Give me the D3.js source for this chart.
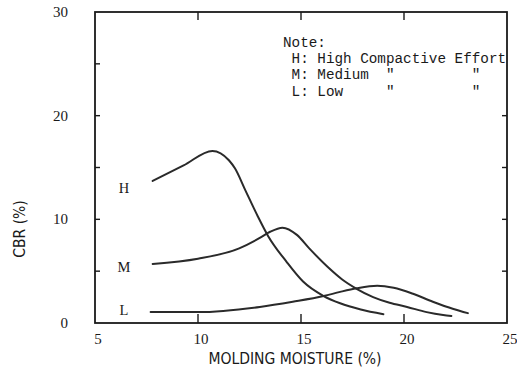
<!DOCTYPE html>
<html>
<head>
<meta charset="utf-8">
<script src="https://cdn.jsdelivr.net/npm/d3@7"></script>
<style>
  html, body { margin: 0; padding: 0; background: #fff; }
  svg { display: block; }
</style>
</head>
<body>
<svg id="chart" width="517" height="373"></svg>
<script>
// CBR versus molding moisture for three compactive efforts
const moistureTicks = [5, 10, 15, 20, 25];
const cbrTicks = [0, 10, 20, 30];
const cbrMinorTicks = [5, 10, 15, 20, 25];

const highMoisture = [7.8, 9.3, 10.7, 11.5, 11.8, 12.3, 12.9, 13.4, 14.3, 15.1, 16.1, 16.9, 17.9, 19.0];
const highCBR      = [13.7, 15.2, 16.6, 15.7, 14.9, 12.8, 10.3, 8.4, 5.9, 4.0, 2.6, 1.9, 1.3, 0.85];

const mediumMoisture = [7.8, 10.0, 12.0, 13.0, 13.5, 14.1, 14.8, 15.4, 16.3, 17.0, 17.7, 18.5, 19.3, 20.15, 21.1, 21.9, 22.3];
const mediumCBR      = [5.7, 6.2, 7.2, 8.2, 8.8, 9.2, 8.5, 7.2, 5.4, 4.2, 3.3, 2.5, 1.95, 1.55, 1.05, 0.77, 0.68];

const lowMoisture = [7.7, 10.0, 13.0, 14.6, 16.1, 16.9, 17.7, 18.7, 19.5, 20.4, 21.4, 22.4, 23.1];
const lowCBR      = [1.05, 1.05, 1.55, 2.05, 2.6, 3.0, 3.35, 3.6, 3.4, 2.85, 2.05, 1.35, 0.95];

const curveLabels = ["H", "M", "L"];
const noteLines = [
  "Note:",
  " H: High Compactive Effort",
  " M: Medium  \"         \"",
  " L: Low     \"         \""
];

const svg = d3.select("#chart");
const x = d3.scaleLinear().domain([5, 25]).range([95, 507]);
const y = d3.scaleLinear().domain([0, 30]).range([323, 12]);

const ink = "#1a1a1a";

// Note block (drawn first so the frame sits on top of it)
const note = svg.append("g")
  .attr("font-family", "'Liberation Mono', 'DejaVu Sans Mono', monospace")
  .attr("font-size", 14.3)
  .attr("fill", ink);
noteLines.forEach((t, i) => {
  note.append("text")
    .attr("x", 283)
    .attr("y", 47 + i * 16.2)
    .attr("xml:space", "preserve")
    .style("white-space", "pre")
    .text(t);
});

// Frame
const frame = svg.append("g").attr("stroke", ink).attr("fill", "none");
frame.append("rect")
  .attr("x", x(5)).attr("y", y(30))
  .attr("width", x(25) - x(5)).attr("height", y(0) - y(30))
  .attr("stroke-width", 1.8);

// Inward ticks on all four sides
const inner = [10, 15, 20];
frame.selectAll(".tb").data(inner).join("line")
  .attr("x1", d => x(d)).attr("x2", d => x(d))
  .attr("y1", y(0)).attr("y2", y(0) - 9).attr("stroke-width", 1.4);
frame.selectAll(".tt").data(inner).join("line")
  .attr("x1", d => x(d)).attr("x2", d => x(d))
  .attr("y1", y(30)).attr("y2", y(30) + 8).attr("stroke-width", 1.4);
frame.selectAll(".tl").data(cbrMinorTicks).join("line")
  .attr("x1", x(5)).attr("x2", x(5) + 5)
  .attr("y1", d => y(d)).attr("y2", d => y(d)).attr("stroke-width", 1.4);
frame.selectAll(".tr").data([5, 10, 15, 20]).join("line")
  .attr("x1", x(25)).attr("x2", x(25) - 5)
  .attr("y1", d => y(d)).attr("y2", d => y(d)).attr("stroke-width", 1.4);

// Tick labels
const labels = svg.append("g")
  .attr("font-family", "'Liberation Serif', 'DejaVu Serif', serif")
  .attr("font-size", 15)
  .attr("fill", ink);
labels.selectAll(".yl").data(cbrTicks).join("text")
  .attr("x", 68).attr("y", d => y(d) + 5)
  .attr("text-anchor", "end")
  .text(d => d);
labels.selectAll(".xl").data(moistureTicks).join("text")
  .attr("x", d => x(d) + 3).attr("y", 344)
  .attr("text-anchor", "middle")
  .text(d => d);

// Axis titles
svg.append("text")
  .attr("transform", "translate(25,229) rotate(-90)")
  .attr("text-anchor", "middle")
  .attr("font-family", "'DejaVu Sans Condensed', 'DejaVu Sans', sans-serif")
  .attr("font-size", 15.5)
  .attr("fill", ink)
  .text("CBR (%)");
svg.append("text")
  .attr("x", 295).attr("y", 364)
  .attr("text-anchor", "middle")
  .attr("font-family", "'DejaVu Sans Condensed', 'DejaVu Sans', sans-serif")
  .attr("font-size", 15.5)
  .attr("fill", ink)
  .text("MOLDING MOISTURE (%)");

// Curves
const line = d3.line()
  .x(d => x(d[0])).y(d => y(d[1]))
  .curve(d3.curveMonotoneX);
const series = [
  d3.zip(highMoisture, highCBR),
  d3.zip(mediumMoisture, mediumCBR),
  d3.zip(lowMoisture, lowCBR)
];
svg.append("g").selectAll("path").data(series).join("path")
  .attr("d", line)
  .attr("fill", "none")
  .attr("stroke", "#2a2a2a")
  .attr("stroke-width", 2)
  .attr("stroke-linecap", "round");

// Curve labels beside each curve's start
svg.append("g")
  .attr("font-family", "'Liberation Serif', 'DejaVu Serif', serif")
  .attr("font-size", 14.5)
  .attr("fill", ink)
  .selectAll("text").data(series).join("text")
  .attr("x", 124)
  .attr("y", (d, i) => y(d[0][1]) + [12, 8, 3][i])
  .attr("text-anchor", "middle")
  .text((d, i) => curveLabels[i]);
</script>
</body>
</html>
